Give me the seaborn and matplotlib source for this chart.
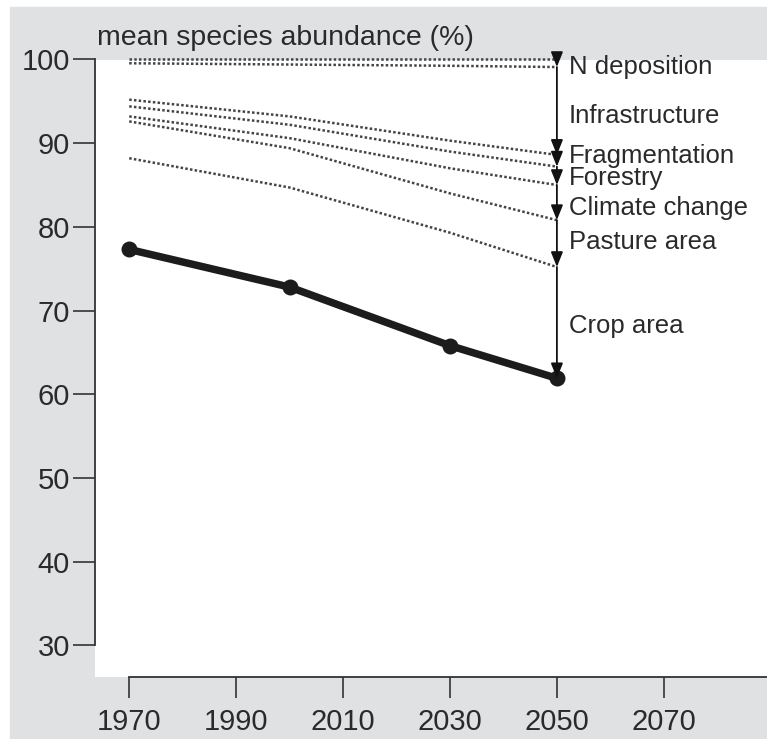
import matplotlib
matplotlib.use("Agg")
import matplotlib.pyplot as plt
from matplotlib.patches import Rectangle, ArrowStyle
import seaborn as sns
import pandas as pd

# values
years = [1970, 2000, 2030, 2050]
crop_area = [77.3, 72.8, 65.8, 61.9]

# dotted "potential" lines, top to bottom
no_pressure = [100.0, 100.0, 100.0, 100.0]
after_n_dep = [99.55, 99.4, 99.25, 99.1]
after_infra = [95.2, 93.2, 90.3, 88.6]
after_frag = [94.4, 92.2, 89.0, 87.2]
after_forest = [93.2, 90.6, 87.0, 85.0]
after_climate = [92.6, 89.4, 84.0, 80.8]
after_pasture = [88.2, 84.7, 79.3, 75.2]

pressures = ["N deposition", "Infrastructure", "Fragmentation", "Forestry",
             "Climate change", "Pasture area", "Crop area"]
label_y = [98.27, 92.4, 87.6, 85.0, 81.4, 77.4, 67.3]

y_ticks = [30, 40, 50, 60, 70, 80, 90, 100]
x_ticks = [1970, 1990, 2010, 2030, 2050, 2070]

sns.set_theme(style="white")
plt.rcParams["font.family"] = ["Liberation Sans", "DejaVu Sans"]

TXT = "#2a2a2a"
GREY_BG = "#e0e1e3"

dotted = pd.DataFrame({
    "year": years * 7,
    "msa": no_pressure + after_n_dep + after_infra + after_frag
    + after_forest + after_climate + after_pasture,
    "series": sum([[i] * len(years) for i in range(7)], []),
})

fig = plt.figure(figsize=(7.67, 7.39), dpi=100, facecolor="white")
fig.add_artist(Rectangle((10 / 767, 0), 1, (739 - 7) / 739,
                         transform=fig.transFigure, color=GREY_BG, zorder=0))
ax = fig.add_axes([95 / 767, 62 / 739, 672 / 767, 617.5 / 739])
ax.set_facecolor("white")

sns.lineplot(data=dotted, x="year", y="msa", units="series", estimator=None,
             color="#444444", lw=1.8, linestyle=(0, (1, 0.9)), ax=ax,
             legend=False, clip_on=False)
sns.lineplot(x=years, y=crop_area, color="#1c1c1c", lw=5.4, marker="o",
             markersize=11.5, markeredgewidth=0, ax=ax, clip_on=False, zorder=5)

# cascade of arrows at 2050
levels = [100.5, after_n_dep[-1], after_infra[-1], after_frag[-1],
          after_forest[-1], after_climate[-1], after_pasture[-1], crop_area[-1]]
style = ArrowStyle("-|>", head_length=0.9, head_width=0.36)
for top, bottom in zip(levels[:-1], levels[1:]):
    ax.annotate("", xy=(years[-1], bottom), xytext=(years[-1], top),
                arrowprops=dict(arrowstyle=style, color="#111111", lw=1.3,
                                shrinkA=0, shrinkB=0, mutation_scale=10),
                annotation_clip=False, zorder=6)

for name, yv in zip(pressures, label_y):
    ax.text(2052.2, yv, name, fontsize=18.5, color=TXT, va="baseline",
            ha="left")

fig.text(97 / 767, 1 - 45 / 739, "mean species abundance (%)", fontsize=20.5,
         color=TXT, va="baseline", ha="left")

ax.set_xlim(1963.6, 2089.3)
ax.set_ylim(26.2, 100)
ax.set_xticks(x_ticks)
ax.set_yticks(y_ticks)
ax.set_xlabel("")
ax.set_ylabel("")
sns.despine(ax=ax, top=True, right=True)
ax.spines["left"].set_bounds(30, 100)
ax.spines["bottom"].set_bounds(1970, 2089.3)
for s in ("left", "bottom"):
    ax.spines[s].set_color("#333333")
    ax.spines[s].set_linewidth(1.3)
ax.tick_params(axis="both", direction="out", color="#333333", width=1.2,
               labelcolor=TXT, labelsize=21, bottom=True, left=True)
ax.tick_params(axis="y", length=16, pad=2)
ax.tick_params(axis="x", length=15, pad=7)

fig.savefig("out.png", dpi=100, facecolor="white")
